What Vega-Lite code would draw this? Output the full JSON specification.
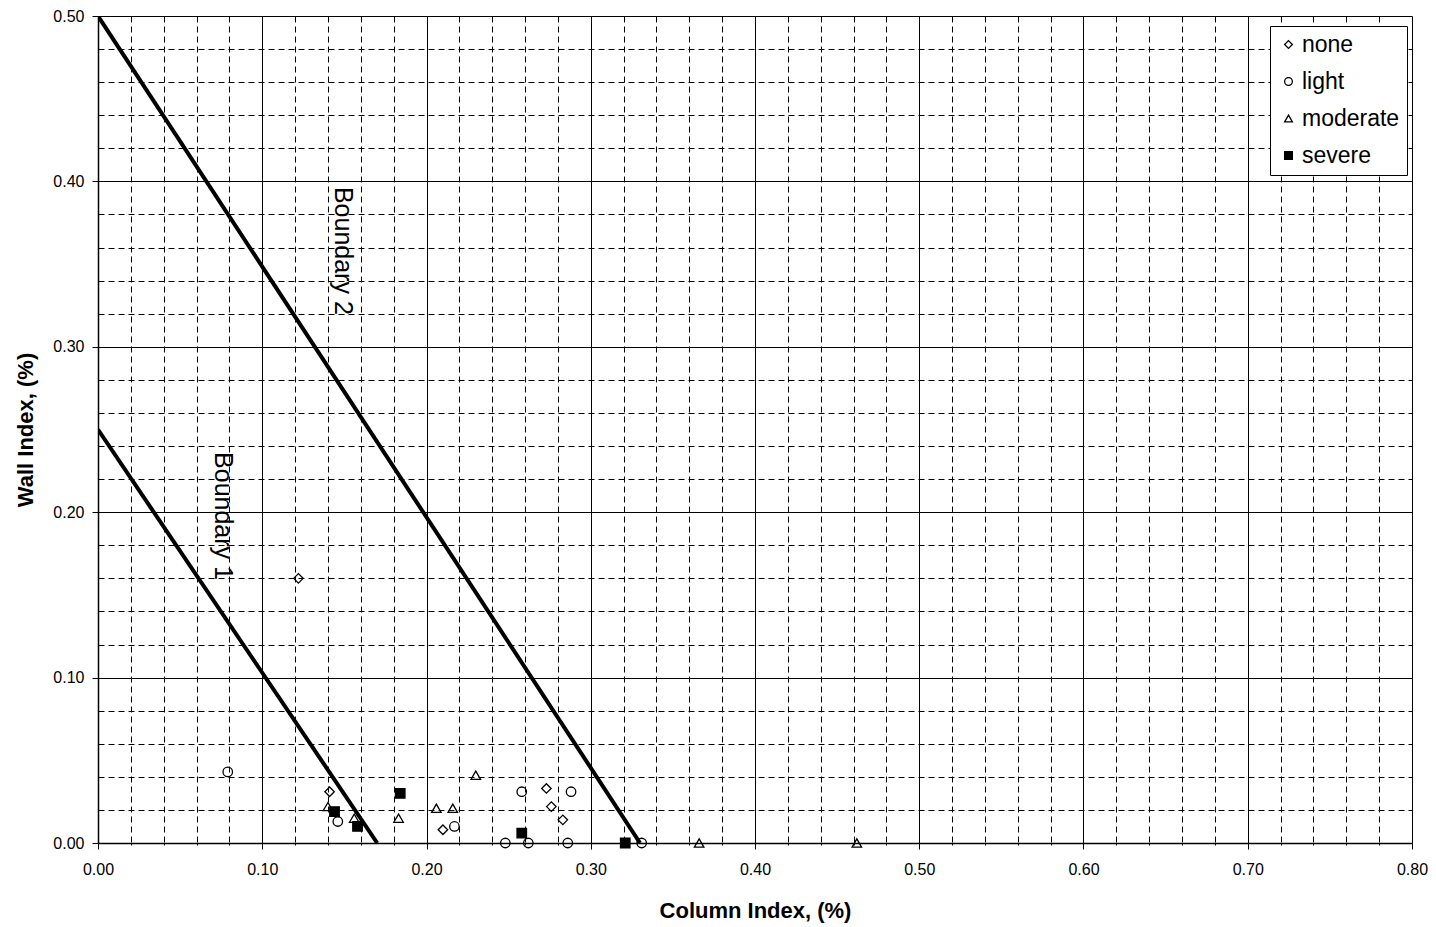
{
  "$schema": "https://vega.github.io/schema/vega-lite/v6.json",
  "autosize": "none",
  "width": 1314,
  "height": 827,
  "padding": {"left": 98, "top": 16, "right": 24, "bottom": 84},
  "background": "white",
  "config": {
    "view": {"stroke": null},
    "font": "Liberation Sans",
    "axis": {
      "labelFont": "Liberation Sans",
      "labelFontSize": 16,
      "labelColor": "black",
      "titleFont": "Liberation Sans",
      "titleFontSize": 22,
      "titleFontWeight": "bold",
      "titleColor": "black",
      "domainColor": "black",
      "domainWidth": 1.5,
      "tickColor": "black"
    },
    "legend": {
      "orient": "none",
      "legendX": 1172,
      "legendY": 10,
      "strokeColor": "black",
      "fillColor": "white",
      "padding": 7,
      "labelFont": "Liberation Sans",
      "labelFontSize": 23,
      "labelColor": "black",
      "symbolStrokeWidth": 1.3,
      "symbolSize": 60,
      "rowPadding": 13,
      "labelOffset": 2
    }
  },
  "datasets": {
    "pts": [
      {"cat": "light", "col": 0.079, "wall": 0.043},
      {"cat": "light", "col": 0.146, "wall": 0.013},
      {"cat": "light", "col": 0.217, "wall": 0.010},
      {"cat": "light", "col": 0.258, "wall": 0.031},
      {"cat": "light", "col": 0.288, "wall": 0.031},
      {"cat": "light", "col": 0.248, "wall": 0.0},
      {"cat": "light", "col": 0.262, "wall": 0.0},
      {"cat": "light", "col": 0.286, "wall": 0.0},
      {"cat": "light", "col": 0.331, "wall": 0.0},
      {"cat": "none", "col": 0.122, "wall": 0.160},
      {"cat": "none", "col": 0.141, "wall": 0.031},
      {"cat": "none", "col": 0.210, "wall": 0.008},
      {"cat": "none", "col": 0.273, "wall": 0.033},
      {"cat": "none", "col": 0.276, "wall": 0.022},
      {"cat": "none", "col": 0.283, "wall": 0.014},
      {"cat": "moderate", "col": 0.140, "wall": 0.022},
      {"cat": "moderate", "col": 0.156, "wall": 0.015},
      {"cat": "moderate", "col": 0.183, "wall": 0.015},
      {"cat": "moderate", "col": 0.206, "wall": 0.021},
      {"cat": "moderate", "col": 0.216, "wall": 0.021},
      {"cat": "moderate", "col": 0.230, "wall": 0.041},
      {"cat": "moderate", "col": 0.366, "wall": 0.0},
      {"cat": "moderate", "col": 0.462, "wall": 0.0},
      {"cat": "severe", "col": 0.144, "wall": 0.019},
      {"cat": "severe", "col": 0.158, "wall": 0.010},
      {"cat": "severe", "col": 0.184, "wall": 0.030},
      {"cat": "severe", "col": 0.258, "wall": 0.006},
      {"cat": "severe", "col": 0.321, "wall": 0.0}
    ],
    "bounds": [
      {"b": "Boundary 1", "col": 0.0, "wall": 0.25},
      {"b": "Boundary 1", "col": 0.17, "wall": 0.0},
      {"b": "Boundary 2", "col": 0.0, "wall": 0.5},
      {"b": "Boundary 2", "col": 0.33, "wall": 0.0}
    ],
    "labels": [
      {"label": "Boundary 2", "col": 0.1492, "wall": 0.358},
      {"label": "Boundary 1", "col": 0.0761, "wall": 0.1977}
    ]
  },
  "layer": [
    {
      "data": {"name": "bounds"},
      "mark": {"type": "line", "color": "black", "strokeWidth": 4, "clip": true},
      "encoding": {
        "x": {
          "field": "col", "type": "quantitative",
          "scale": {"domain": [0, 0.8], "nice": false, "zero": false},
          "title": "Column Index, (%)",
          "axis": {
            "values": [0,0.02,0.04,0.06,0.08,0.1,0.12,0.14,0.16,0.18,0.2,0.22,0.24,0.26,0.28,0.3,0.32,0.34,0.36,0.38,0.4,0.42,0.44,0.46,0.48,0.5,0.52,0.54,0.56,0.58,0.6,0.62,0.64,0.66,0.68,0.7,0.72,0.74,0.76,0.78,0.8],
            "tickCount": 200,
            "labelExpr": "round(datum.value*100) % 10 === 0 ? format(datum.value, '.2f') : ''",
            "grid": true,
            "gridColor": "black",
            "gridOpacity": 1,
            "gridWidth": 1,
            "gridDash": {"condition": {"test": "round(datum.value*100) % 10 === 0", "value": []}, "value": [6, 4]},
            "tickSize": {"condition": {"test": "round(datum.value*100) % 10 === 0", "value": 6}, "value": 2},
            "labelPadding": 12,
            "titlePadding": 23,
            "labelFlush": false,
            "labelOverlap": false
          }
        },
        "y": {
          "field": "wall", "type": "quantitative",
          "scale": {"domain": [0, 0.5], "nice": false, "zero": false},
          "title": "Wall Index, (%)",
          "axis": {
            "values": [0,0.02,0.04,0.06,0.08,0.1,0.12,0.14,0.16,0.18,0.2,0.22,0.24,0.26,0.28,0.3,0.32,0.34,0.36,0.38,0.4,0.42,0.44,0.46,0.48,0.5],
            "tickCount": 200,
            "labelExpr": "round(datum.value*100) % 10 === 0 ? format(datum.value, '.2f') : ''",
            "grid": true,
            "gridColor": "black",
            "gridOpacity": 1,
            "gridWidth": 1,
            "gridDash": {"condition": {"test": "round(datum.value*100) % 10 === 0", "value": []}, "value": [6, 4]},
            "tickSize": {"condition": {"test": "round(datum.value*100) % 10 === 0", "value": 6}, "value": 0},
            "labelPadding": 8,
            "titlePadding": 15,
            "labelFlush": false,
            "labelOverlap": false
          }
        },
        "detail": {"field": "b"}
      }
    },
    {
      "data": {"name": "labels"},
      "mark": {"type": "text", "angle": 90, "align": "center", "baseline": "middle", "fontSize": 25, "font": "Liberation Sans", "color": "black"},
      "encoding": {
        "x": {"field": "col", "type": "quantitative"},
        "y": {"field": "wall", "type": "quantitative"},
        "text": {"field": "label"}
      }
    },
    {
      "data": {"name": "pts"},
      "mark": {"type": "point", "filled": false, "strokeWidth": 1.3, "size": 90, "opacity": 1},
      "encoding": {
        "x": {"field": "col", "type": "quantitative"},
        "y": {"field": "wall", "type": "quantitative"},
        "shape": {
          "field": "cat", "type": "nominal",
          "scale": {"domain": ["none", "light", "moderate", "severe"], "range": ["diamond", "circle", "triangle-up", "square"]},
          "legend": {"title": null}
        },
        "stroke": {
          "field": "cat", "type": "nominal",
          "scale": {"domain": ["none", "light", "moderate", "severe"], "range": ["black", "black", "black", "black"]},
          "legend": {"title": null}
        },
        "fill": {
          "field": "cat", "type": "nominal",
          "scale": {"domain": ["none", "light", "moderate", "severe"], "range": ["transparent", "transparent", "transparent", "black"]},
          "legend": {"title": null}
        }
      }
    }
  ]
}
